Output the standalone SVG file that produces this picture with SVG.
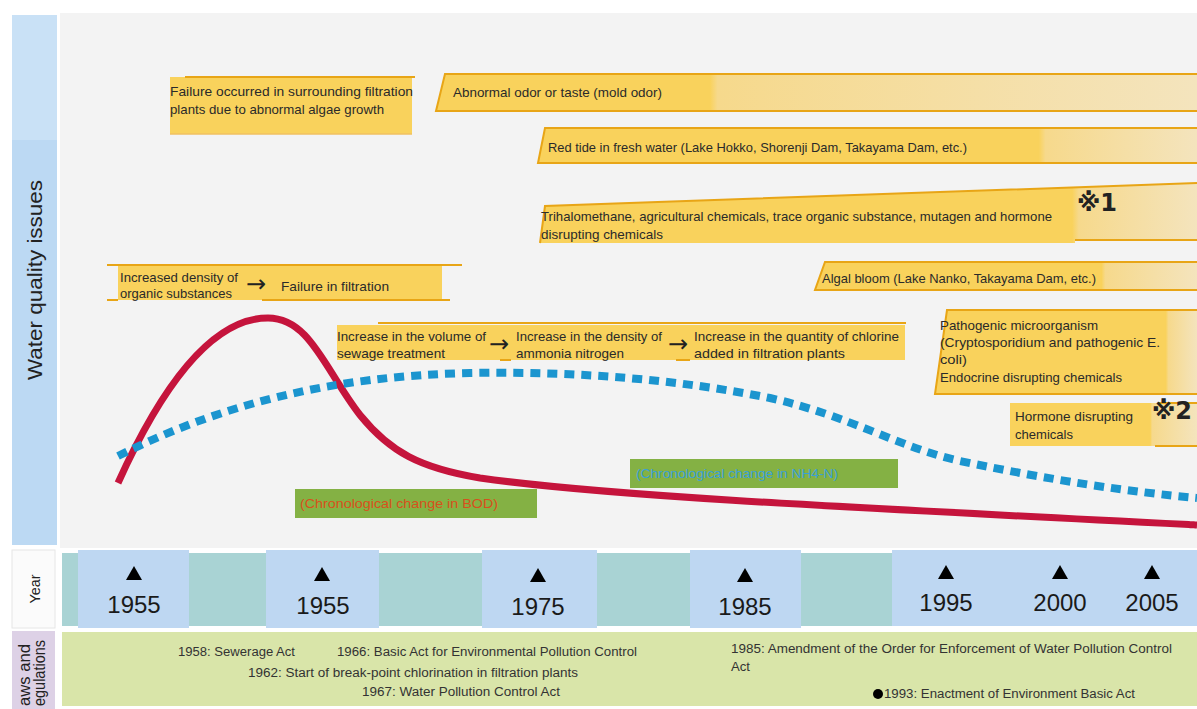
<svg xmlns="http://www.w3.org/2000/svg" width="1197" height="709" viewBox="0 0 1197 709">
<defs>
  <linearGradient id="gAbn" gradientUnits="userSpaceOnUse" x1="436" y1="0" x2="1197" y2="0">
    <stop offset="0" stop-color="#f9d25c"/><stop offset="0.36" stop-color="#f9d25c"/>
    <stop offset="0.37" stop-color="#f6d98c"/><stop offset="1" stop-color="#f4e4bd"/>
  </linearGradient>
  <linearGradient id="gRed" gradientUnits="userSpaceOnUse" x1="538" y1="0" x2="1197" y2="0">
    <stop offset="0" stop-color="#f9d25c"/><stop offset="0.76" stop-color="#f9d25c"/>
    <stop offset="0.77" stop-color="#f6d98c"/><stop offset="1" stop-color="#f4e4bd"/>
  </linearGradient>
  <linearGradient id="gTri" gradientUnits="userSpaceOnUse" x1="540" y1="0" x2="1197" y2="0">
    <stop offset="0" stop-color="#f9d25c"/><stop offset="0.81" stop-color="#f9d25c"/>
    <stop offset="0.82" stop-color="#f6d98c"/><stop offset="1" stop-color="#f4e4bd"/>
  </linearGradient>
  <linearGradient id="gAlg" gradientUnits="userSpaceOnUse" x1="815" y1="0" x2="1197" y2="0">
    <stop offset="0" stop-color="#f9d25c"/><stop offset="0.75" stop-color="#f9d25c"/>
    <stop offset="0.76" stop-color="#f6d98c"/><stop offset="1" stop-color="#f4e4bd"/>
  </linearGradient>
  <linearGradient id="gPat" gradientUnits="userSpaceOnUse" x1="937" y1="0" x2="1197" y2="0">
    <stop offset="0" stop-color="#f9d25c"/><stop offset="0.88" stop-color="#f9d25c"/>
    <stop offset="0.89" stop-color="#f6d98c"/><stop offset="1" stop-color="#f4e4bd"/>
  </linearGradient>
  <linearGradient id="gHor" gradientUnits="userSpaceOnUse" x1="1010" y1="0" x2="1197" y2="0">
    <stop offset="0" stop-color="#f9d25c"/><stop offset="0.75" stop-color="#f9d25c"/>
    <stop offset="0.76" stop-color="#f6d98c"/><stop offset="1" stop-color="#f4e4bd"/>
  </linearGradient>
  <path id="tri" d="M-8,7 L0,-7 L8,7 Z"/>
</defs>
<style>
  .t { font-family: "Liberation Sans", Arial, sans-serif; font-size: 13px; fill: #2a2a2a; }
  .edge { stroke: #e8a516; stroke-width: 2; fill: none; }
  .yr { font-family: "Liberation Sans", Arial, sans-serif; font-size: 24px; fill: #1a1a1a; text-anchor: middle; }
  .law { font-family: "Liberation Sans", Arial, sans-serif; font-size: 12.5px; fill: #333; }
  .side { font-family: "Liberation Sans", Arial, sans-serif; fill: #222; }
  .arr { font-family: "DejaVu Sans", sans-serif; font-size: 24px; fill: #222; }
  .mark { font-family: "DejaVu Sans", "Liberation Sans", sans-serif; font-size: 24px; font-weight: bold; fill: #222; }
  .grn { fill: #84b144; }
</style>
<rect x="0" y="0" width="1197" height="709" fill="#ffffff"/>

<g id="panel-water">
  <rect x="60" y="13" width="1137" height="535" fill="#f3f3f3"/>
  <rect x="12" y="15" width="45" height="530" fill="#bcd9f3"/>
  <rect x="12" y="15" width="45" height="125" fill="#c9e1f6"/>
  <text class="side" font-size="20" text-anchor="middle" textLength="200" lengthAdjust="spacingAndGlyphs" transform="translate(42,280) rotate(-90)">Water quality issues</text>
</g>

<g id="panel-year">
  <rect x="12" y="550" width="43" height="78" fill="#fbfbfb" stroke="#e6e6e6"/>
  <text class="side" font-size="15" text-anchor="middle" textLength="29" lengthAdjust="spacingAndGlyphs" transform="translate(40,589) rotate(-90)">Year</text>
  <rect x="62" y="553" width="1135" height="73" fill="#a9d3d4"/>
  <rect x="78" y="550" width="111" height="78" fill="#bed7f2"/>
  <rect x="266" y="550" width="113" height="78" fill="#bed7f2"/>
  <rect x="482" y="550" width="115" height="78" fill="#bed7f2"/>
  <rect x="690" y="550" width="111" height="78" fill="#bed7f2"/>
  <rect x="892" y="550" width="305" height="76" fill="#bed7f2"/>
  <use href="#tri" x="134" y="573" fill="#000"/>
  <use href="#tri" x="322" y="574" fill="#000"/>
  <use href="#tri" x="538" y="575" fill="#000"/>
  <use href="#tri" x="745" y="575" fill="#000"/>
  <use href="#tri" x="946" y="572" fill="#000"/>
  <use href="#tri" x="1060" y="572" fill="#000"/>
  <use href="#tri" x="1152" y="572" fill="#000"/>
  <text class="yr" x="134" y="613">1955</text>
  <text class="yr" x="323" y="614">1955</text>
  <text class="yr" x="538" y="615">1975</text>
  <text class="yr" x="745" y="615">1985</text>
  <text class="yr" x="946" y="611">1995</text>
  <text class="yr" x="1060" y="611">2000</text>
  <text class="yr" x="1152" y="611">2005</text>
</g>

<g id="panel-laws">
  <rect x="12" y="631" width="43" height="78" fill="#ddd1e6"/>
  <text class="side" font-size="16" text-anchor="end" textLength="62" lengthAdjust="spacingAndGlyphs" transform="translate(30,644) rotate(-90)">aws and</text>
  <text class="side" font-size="16" text-anchor="end" textLength="66" lengthAdjust="spacingAndGlyphs" transform="translate(45,640) rotate(-90)">egulations</text>
  <rect x="62" y="632" width="1135" height="74" fill="#d9e5a9"/>
  <text class="law" x="178" y="656" textLength="117" lengthAdjust="spacingAndGlyphs">1958:  Sewerage Act</text>
  <text class="law" x="337" y="656" textLength="300" lengthAdjust="spacingAndGlyphs">1966:  Basic Act for Environmental Pollution Control</text>
  <text class="law" x="248" y="677" textLength="330" lengthAdjust="spacingAndGlyphs">1962:  Start of break-point chlorination in filtration plants</text>
  <text class="law" x="362" y="696" textLength="198" lengthAdjust="spacingAndGlyphs">1967:  Water Pollution Control Act</text>
  <text class="law" x="731" y="653" textLength="441" lengthAdjust="spacingAndGlyphs">1985:  Amendment of the Order for Enforcement of Water Pollution Control</text>
  <text class="law" x="731" y="671" textLength="19" lengthAdjust="spacingAndGlyphs">Act</text>
  <circle cx="878" cy="694" r="5" fill="#000"/>
  <text class="law" x="884" y="698" textLength="251" lengthAdjust="spacingAndGlyphs">1993:  Enactment of Environment Basic Act</text>
</g>

<g id="connectors">
  <path d="M118,483 C160,390 210,318 268,318 C310,318 325,370 360,415 C390,452 420,468 480,478 C600,495 800,505 1197,525" fill="none" stroke="#c5143c" stroke-width="7" stroke-linecap="butt"/>
  <path d="M118,456 C220,405 330,376 470,373 C580,371 680,380 770,398 C850,416 900,448 960,461 C1050,480 1130,492 1197,498" fill="none" stroke="#1b95cf" stroke-width="8" stroke-dasharray="10 7"/>
</g>

<g id="node-bod">
  <rect class="grn" x="295" y="489" width="242" height="29"/>
  <text class="t" x="300" y="508" style="fill:#d8501c" textLength="198" lengthAdjust="spacingAndGlyphs">(Chronological change in BOD)</text>
</g>

<g id="node-nh4">
  <rect class="grn" x="630" y="459" width="268" height="29"/>
  <text class="t" x="636" y="478" style="fill:#3aa0d8" textLength="202" lengthAdjust="spacingAndGlyphs">(Chronological change in NH4-N)</text>
</g>

<g id="node-algae-failure">
  <rect x="170" y="77" width="242" height="57" fill="#f9d25c"/>
  <line class="edge" x1="185" y1="77" x2="415" y2="77"/>
  <line x1="170" y1="134" x2="412" y2="134" stroke="#f0c060" stroke-width="1.5"/>
  <text class="t" x="170" y="96" textLength="243" lengthAdjust="spacingAndGlyphs">Failure occurred in surrounding filtration</text>
  <text class="t" x="170" y="114" textLength="214" lengthAdjust="spacingAndGlyphs">plants due to abnormal algae growth</text>
</g>

<g id="node-odor">
  <polygon points="445,74 1197,74 1197,111 436,111" fill="url(#gAbn)"/>
  <polyline class="edge" points="1197,74 445,74 436,111 1197,111"/>
  <text class="t" x="453" y="97" textLength="209" lengthAdjust="spacingAndGlyphs">Abnormal odor or taste (mold odor)</text>
</g>

<g id="node-redtide">
  <polygon points="545,128 1197,128 1197,163 538,163" fill="url(#gRed)"/>
  <polyline class="edge" points="1197,128 545,128 538,163 1197,163"/>
  <text class="t" x="548" y="152" textLength="419" lengthAdjust="spacingAndGlyphs">Red tide in fresh water (Lake Hokko, Shorenji Dam, Takayama Dam, etc.)</text>
</g>

<g id="node-trihalomethane">
  <polygon points="545,206 1197,183 1197,240 1075,240 1075,243 540,243" fill="url(#gTri)"/>
  <polyline class="edge" points="1197,183 545,206 540,243"/>
  <line class="edge" x1="1075" y1="240" x2="1197" y2="240"/>
  <text class="t" x="541" y="221" textLength="511" lengthAdjust="spacingAndGlyphs">Trihalomethane, agricultural chemicals, trace organic substance, mutagen and hormone</text>
  <text class="t" x="541" y="239" textLength="122" lengthAdjust="spacingAndGlyphs">disrupting chemicals</text>
  <text class="mark" x="1077" y="211">※1</text>
</g>

<g id="node-algal-bloom">
  <polygon points="825,262 1197,262 1197,290 815,290" fill="url(#gAlg)"/>
  <polyline class="edge" points="1197,262 825,262 815,290 1197,290"/>
  <text class="t" x="822" y="283" textLength="274" lengthAdjust="spacingAndGlyphs">Algal bloom (Lake Nanko, Takayama Dam, etc.)</text>
</g>

<g id="node-pathogenic">
  <polygon points="947,310 1197,310 1197,394 935,394" fill="url(#gPat)"/>
  <polyline class="edge" points="1197,310 947,310 935,394 1197,394"/>
  <text class="t" x="940" y="330" textLength="158" lengthAdjust="spacingAndGlyphs">Pathogenic microorganism</text>
  <text class="t" x="940" y="347" textLength="220" lengthAdjust="spacingAndGlyphs">(Cryptosporidium and pathogenic E.</text>
  <text class="t" x="940" y="364" textLength="27" lengthAdjust="spacingAndGlyphs">coli)</text>
  <text class="t" x="940" y="382" textLength="182" lengthAdjust="spacingAndGlyphs">Endocrine disrupting chemicals</text>
</g>

<g id="node-hormone">
  <rect x="1010" y="403" width="187" height="43" fill="url(#gHor)"/>
  <line class="edge" x1="1155" y1="446" x2="1197" y2="446"/>
  <line class="edge" x1="1158" y1="403" x2="1197" y2="403"/>
  <text class="t" x="1015" y="421" textLength="118" lengthAdjust="spacingAndGlyphs">Hormone disrupting</text>
  <text class="t" x="1015" y="439" textLength="58" lengthAdjust="spacingAndGlyphs">chemicals</text>
  <text class="mark" x="1152" y="419">※2</text>
</g>

<g id="node-organic">
  <rect x="118" y="266" width="324" height="34" fill="#f9d25c"/>
  <line class="edge" x1="107" y1="265" x2="462" y2="265"/>
  <line class="edge" x1="107" y1="300" x2="118" y2="300"/>
  <line class="edge" x1="262" y1="300" x2="450" y2="300"/>
  <text class="t" x="120" y="282" textLength="118" lengthAdjust="spacingAndGlyphs">Increased density of</text>
  <text class="t" x="120" y="298" textLength="112" lengthAdjust="spacingAndGlyphs">organic substances</text>
  <text class="arr" x="246" y="292">→</text>
  <text class="t" x="281" y="291" textLength="108" lengthAdjust="spacingAndGlyphs">Failure in filtration</text>
</g>

<g id="node-sewage">
  <rect x="337" y="325" width="568" height="35" fill="#f9d25c"/>
  <line class="edge" x1="378" y1="323" x2="906" y2="323"/>
  <line class="edge" x1="500" y1="360" x2="511" y2="360"/>
  <line class="edge" x1="676" y1="360" x2="690" y2="360"/>
  <text class="t" x="337" y="341" textLength="149" lengthAdjust="spacingAndGlyphs">Increase in the volume of</text>
  <text class="t" x="337" y="358" textLength="108" lengthAdjust="spacingAndGlyphs">sewage treatment</text>
  <text class="arr" x="489" y="352">→</text>
  <text class="t" x="516" y="341" textLength="146" lengthAdjust="spacingAndGlyphs">Increase in the density of</text>
  <text class="t" x="516" y="358" textLength="108" lengthAdjust="spacingAndGlyphs">ammonia nitrogen</text>
  <text class="arr" x="668" y="352">→</text>
  <text class="t" x="694" y="341" textLength="205" lengthAdjust="spacingAndGlyphs">Increase in the quantity of chlorine</text>
  <text class="t" x="694" y="358" textLength="151" lengthAdjust="spacingAndGlyphs">added in filtration plants</text>
</g>
</svg>
